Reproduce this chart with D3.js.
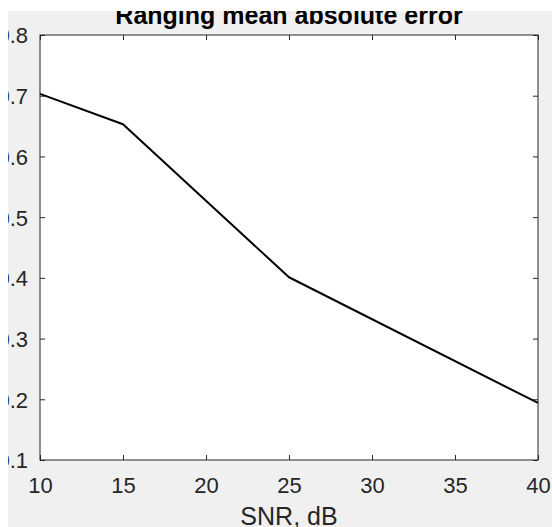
<!DOCTYPE html>
<html><head><meta charset="utf-8">
<script src="https://cdn.jsdelivr.net/npm/d3@7"></script>
<style>html,body{margin:0;padding:0;background:#fff;}svg{display:block;}</style>
</head><body>
<svg id="c" width="552" height="527"></svg>
<script>
const snr = [10, 15, 25, 40];
const mae = [0.703, 0.653, 0.401, 0.194];
const xTicks = [10, 15, 20, 25, 30, 35, 40];
const yTicks = [0.1, 0.2, 0.3, 0.4, 0.5, 0.6, 0.7, 0.8];
const titleText = "Ranging mean absolute error";
const xLabelText = "SNR, dB";

const svg = d3.select("#c");
const W = 552, H = 527;
const m = {left: 40, right: 538, top: 35, bottom: 460};
const axisColor = "#262626";
const font = "'Liberation Sans', Arial, sans-serif";

svg.append("rect").attr("x", 8).attr("y", 11).attr("width", W - 8).attr("height", H - 11).attr("fill", "#f0f0f0");
svg.append("rect").attr("x", m.left).attr("y", m.top).attr("width", m.right - m.left).attr("height", m.bottom - m.top).attr("fill", "#fff");

const x = d3.scaleLinear().domain([10, 40]).range([m.left, m.right]);
const y = d3.scaleLinear().domain([0.1, 0.8]).range([m.bottom, m.top]);

const line = d3.line().x((d, i) => x(snr[i])).y(d => y(d));
svg.append("path").datum(mae).attr("d", line).attr("fill", "none")
  .attr("stroke", "#000").attr("stroke-width", 2).attr("stroke-linejoin", "round");

function styleAxis(g) {
  g.select(".domain").remove();
  g.selectAll(".tick line").attr("stroke", axisColor).attr("stroke-width", 1);
  g.selectAll(".tick text").attr("fill", axisColor).attr("font-family", font).attr("font-size", 22);
}
const tk = 5;
const gx = svg.append("g").attr("transform", `translate(0,${m.bottom})`)
  .call(d3.axisBottom(x).tickValues(xTicks).tickSize(-tk).tickFormat(d3.format("d")))
  .call(styleAxis);
gx.selectAll(".tick text").attr("y", 33).attr("dy", null);
svg.append("g").attr("transform", `translate(0,${m.top})`)
  .call(d3.axisTop(x).tickValues(xTicks).tickSize(-tk).tickFormat(""))
  .call(styleAxis);
const gy = svg.append("g").attr("transform", `translate(${m.left},0)`)
  .call(d3.axisLeft(y).tickValues(yTicks).tickSize(-tk).tickFormat(d3.format(".1f")))
  .call(styleAxis);
gy.selectAll(".tick text").attr("x", -12).attr("dy", "0.36em");
svg.append("g").attr("transform", `translate(${m.right},0)`)
  .call(d3.axisRight(y).tickValues(yTicks).tickSize(-tk).tickFormat(""))
  .call(styleAxis);

svg.append("rect").attr("x", m.left).attr("y", m.top).attr("width", m.right - m.left).attr("height", m.bottom - m.top)
  .attr("fill", "none").attr("stroke", axisColor).attr("stroke-width", 1);

svg.append("text").attr("x", (m.left + m.right) / 2).attr("y", 525).attr("text-anchor", "middle")
  .attr("font-family", font).attr("font-size", 25).attr("fill", axisColor).text(xLabelText);
svg.append("text").attr("x", (m.left + m.right) / 2).attr("y", 24).attr("text-anchor", "middle")
  .attr("font-family", font).attr("font-size", 25).attr("font-weight", "bold").attr("fill", "#000").text(titleText);

// white border of the cropped screenshot
svg.append("rect").attr("x", 0).attr("y", 0).attr("width", W).attr("height", 11).attr("fill", "#fff");
svg.append("rect").attr("x", 0).attr("y", 0).attr("width", 8).attr("height", H).attr("fill", "#fff");
</script>
</body></html>
